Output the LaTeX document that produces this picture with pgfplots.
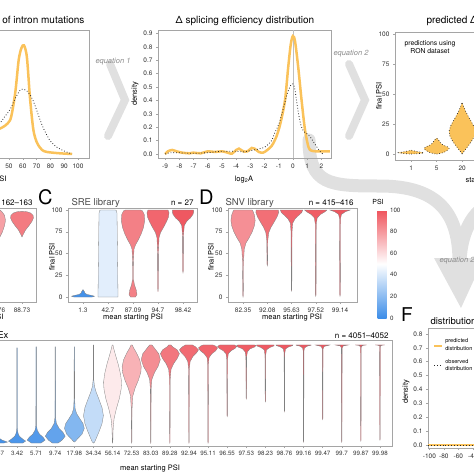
\documentclass[border=0pt]{standalone}
\usepackage{pgfplots}
\pgfplotsset{compat=1.18}
\usepackage{fontspec}
\setmainfont{TeX Gyre Heros}
\definecolor{PSIr}{RGB}{239,83,92}
\definecolor{PSIb}{RGB}{62,142,232}
\definecolor{orng}{RGB}{250,194,90}
\definecolor{band}{RGB}{224,224,224}
\definecolor{frame}{RGB}{165,165,165}
\pgfplotsset{colormap={psi}{rgb255(0cm)=(62,142,232); rgb255(1cm)=(255,255,255); rgb255(2cm)=(239,83,92)}}
\newcommand\fs[1]{\fontsize{#1}{#1}\selectfont}
\pgfplotsset{
 panel/.style={scale only axis, anchor=north west,
   axis line style={frame, line width=0.6pt},
   tick style={frame, line width=0.5pt}, tick align=outside, major tick length=2pt,
   tick pos=left, ticklabel style={font=\fs{6.5}, text=black!80},
   /pgf/number format/assume math mode=true, clip=true},
 vout/.style={draw=black!50, line width=0.3pt},
 pout/.style={draw=black!85, dotted, line width=0.7pt},
}
% violin: center, fill, outline style, list of y/halfwidth
\newcommand\vio[4]{%
 \gdef\vR{}\gdef\vL{}%
 \foreach \yy/\ww in {#4} {%
   \pgfmathsetmacro\xr{#1+\ww}\pgfmathsetmacro\xl{#1-\ww}%
   \xdef\vR{\vR (\xr,\yy)}\xdef\vL{(\xl,\yy) \vL}}%
 \edef\temp{\noexpand\addplot[fill=#2, #3] coordinates {\vR\space\vL} -- cycle;}%
 \temp
}
\begin{document}
\begin{tikzpicture}
\useasboundingbox (0pt,0pt) rectangle (474pt,-474pt);
\clip (0pt,0pt) rectangle (474pt,-474pt);
% ---------- decorative grey arrows ----------
\draw[band, line width=8pt, line join=miter, line cap=round] (110pt,-64pt) -- (125pt,-100pt) -- (108pt,-136pt);
\draw[band, line width=8pt, line join=miter, line cap=round] (349pt,-64pt) -- (365pt,-100pt) -- (349pt,-136pt);
\draw[band, line width=13pt, line cap=round] (309pt,-140pt) .. controls (309pt,-185pt) and (330pt,-186pt) .. (380pt,-186pt) .. controls (440pt,-186pt) and (459pt,-215pt) .. (459pt,-262pt);
\draw[band, line width=13pt] (500pt,-200pt) .. controls (475pt,-205pt) and (461pt,-230pt) .. (460pt,-262pt);
\fill[band] (434pt,-258pt) -- (484pt,-258pt) -- (461pt,-308pt) -- cycle;

% ---------- A (cropped) ----------
\begin{axis}[panel, at={(-71pt,-30pt)}, width=160pt, height=128pt,
  xmin=-8, xmax=108, ymin=-0.03, ymax=0.925, xtick={50,60,...,100}, ytick=\empty]
\addplot[orng, line width=2.5pt, smooth] coordinates {(0,0.005) (10,0.01) (20,0.03) (30,0.08) (35,0.12) (40,0.17) (43.5,0.19) (47,0.21) (50.7,0.25) (52.6,0.33) (54.8,0.48) (57,0.7) (59,0.79) (60.9,0.81) (63,0.72) (65.2,0.42) (67.4,0.2) (69,0.12) (71,0.07) (74,0.03) (77.5,0.015) (87,0.005) (95.7,0)};
\addplot[black!85, dotted, line width=0.8pt, smooth] coordinates {(0,0.005) (10,0.02) (20,0.06) (30,0.12) (40,0.2) (43.5,0.23) (47,0.28) (50.7,0.33) (54.8,0.42) (58.4,0.48) (61.3,0.48) (64,0.46) (67.4,0.4) (71,0.3) (74.6,0.2) (79.7,0.1) (84.8,0.05) (90.6,0.02) (95.7,0)};
\end{axis}

% ---------- B: delta splicing efficiency ----------
\begin{axis}[panel, at={(158pt,-30pt)}, width=173pt, height=128pt,
  xmin=-9.5, xmax=2.68, ymin=-0.03, ymax=0.925, xtick={-9,...,2}, ytick={0,0.1,...,0.9},
  yticklabel style={/pgf/number format/.cd, fixed, fixed zerofill, precision=1}]
\addplot[black!25, line width=0.8pt] coordinates {(0,-0.03) (0,0.925)};
\addplot[orng, line width=2.5pt, smooth] coordinates {(-9,0) (-8.8,0.02) (-8.5,0.03) (-8.2,0.02) (-7.8,0.01) (-7.3,0.005) (-7,0.01) (-6.5,0.005) (-6,0.02) (-5.5,0.015) (-5,0.02) (-4.6,0.01) (-4.3,0.002) (-4,0.03) (-3.8,0.04) (-3.5,0.02) (-3.2,0.02) (-2.9,0.045) (-2.7,0.04) (-2.4,0.015) (-2.1,0.01) (-1.8,0.03) (-1.5,0.06) (-1.2,0.12) (-0.9,0.22) (-0.56,0.4) (-0.33,0.65) (-0.15,0.82) (0,0.88) (0.15,0.84) (0.37,0.65) (0.61,0.4) (0.85,0.18) (1.1,0.05) (1.3,0.025) (1.6,0.02) (2,0.02) (2.6,0.02)};
\addplot[black!85, dotted, line width=0.8pt, smooth] coordinates {(-9,0) (-8.5,0.01) (-7,0.005) (-6,0.01) (-5,0.02) (-4,0.02) (-3.5,0.015) (-3,0.025) (-2.5,0.035) (-2,0.05) (-1.76,0.07) (-1.5,0.1) (-1.27,0.16) (-1,0.22) (-0.7,0.33) (-0.4,0.45) (-0.1,0.52) (0.1,0.5) (0.35,0.33) (0.55,0.22) (0.75,0.17) (1,0.15) (1.2,0.13) (1.45,0.09) (1.7,0.05) (1.9,0.02) (2.1,0)};
\end{axis}

% ---------- predicted (top right) ----------
\begin{axis}[panel, at={(395pt,-32pt)}, width=160pt, height=128pt,
  xmin=-0.63, xmax=5.64, ymin=-5, ymax=101.7, xtick={0,1,2}, xticklabels={1,5,20}, ytick={0,25,50,75,100}]
\vio{0}{orng}{pout}{0/0, 0.3/0.25, 0.7/0.45, 1.1/0.49, 1.5/0.38, 2/0.25, 2.6/0.1, 3.2/0}
\vio{1}{orng}{pout}{0/0, 0.5/0.15, 1.5/0.3, 3/0.42, 4.5/0.49, 6/0.42, 7.5/0.25, 9/0.16, 10.5/0.12, 12/0.06, 13.3/0}
\vio{2}{orng}{pout}{0/0, 3/0.1, 7/0.25, 11/0.38, 15/0.48, 19/0.51, 23/0.46, 27/0.36, 31/0.25, 35/0.15, 39/0.07, 43/0}
\end{axis}

% ---------- middle left (cropped) ----------
\begin{axis}[panel, at={(-90pt,-208pt)}, width=126pt, height=94pt,
  xmin=-3.48, xmax=1.56, ymin=-5.7, ymax=102.3, xtick={0,1}, xticklabels={78.76,88.73}, ytick=\empty]
\vio{0}{PSIr!55!white}{vout}{62/0, 68/0.1, 75/0.22, 82/0.3, 88/0.34, 94/0.3, 98/0.2, 100/0.12, 100/0}
\vio{1}{PSIr!77!white}{vout}{69/0, 72/0.05, 77/0.14, 82/0.28, 87/0.4, 91/0.46, 94/0.44, 96.5/0.35, 98/0.2, 98.5/0}
\end{axis}

% ---------- C: SRE library ----------
\begin{axis}[panel, at={(68pt,-208pt)}, width=129pt, height=94pt,
  xmin=-0.6, xmax=4.56, ymin=-5.7, ymax=102.3, xtick={0,...,4}, xticklabels={1.3,42.7,87.09,94.7,98.42}, ytick={0,25,50,75,100}]
\vio{0}{PSIb!97!white}{vout}{0/0, 0/0.36, 1/0.46, 2/0.32, 3/0.16, 4.5/0.08, 6.5/0.05, 8.5/0}
\vio{1}{PSIb!15!white}{vout}{0/0, 0/0.4, 50/0.38, 96/0.36, 99/0.34, 100/0.3, 100/0}
\vio{2}{PSIr!74!white}{vout}{0/0, 0/0.1, 3/0.16, 8/0.13, 14/0.06, 20/0.02, 40/0.015, 55/0.04, 60/0.1, 65/0.2, 72/0.32, 80/0.42, 88/0.47, 95/0.45, 99/0.38, 100/0.3, 100/0}
\vio{3}{PSIr!89!white}{vout}{6/0, 10/0.012, 50/0.016, 68/0.04, 74/0.1, 80/0.22, 86/0.33, 92/0.42, 97/0.44, 100/0.4, 100/0}
\vio{4}{PSIr!97!white}{vout}{28/0, 30/0.012, 70/0.016, 82/0.05, 87/0.15, 91/0.3, 95/0.4, 98/0.43, 100/0.42, 100/0}
\end{axis}

% ---------- D: SNV library ----------
\begin{axis}[panel, at={(228pt,-208pt)}, width=129pt, height=94pt,
  xmin=-0.62, xmax=4.7, ymin=-5.7, ymax=102.3, xtick={0,...,4}, xticklabels={82.35,92.08,95.63,97.52,99.14}, ytick={0,25,50,75,100}]
\vio{0}{PSIr!65!white}{vout}{0/0, 2/0.012, 40/0.02, 55/0.05, 62/0.12, 68/0.25, 75/0.38, 82/0.47, 88/0.5, 94/0.47, 98/0.42, 100/0.38, 100/0}
\vio{1}{PSIr!84!white}{vout}{36/0, 38/0.012, 65/0.02, 74/0.06, 80/0.15, 86/0.28, 92/0.4, 97/0.47, 100/0.46, 100/0}
\vio{2}{PSIr!91!white}{vout}{7/0, 9/0.012, 75/0.02, 85/0.05, 90/0.15, 94/0.3, 97/0.42, 100/0.46, 100/0}
\vio{3}{PSIr!95!white}{vout}{1/0, 3/0.012, 84/0.02, 91/0.06, 95/0.2, 98/0.38, 100/0.46, 100/0}
\vio{4}{PSIr!98!white}{vout}{1/0, 3/0.012, 90/0.02, 95/0.06, 98/0.22, 100/0.42, 100/0}
\end{axis}

% ---------- colorbar ----------
\begin{axis}[at={(365pt,-210pt)}, anchor=north east, scale only axis, width=2pt, height=108pt, hide axis,
  xmin=0, xmax=1, ymin=0, ymax=1,
  colormap name=psi, point meta min=0, point meta max=100, colorbar,
  colorbar style={at={(parent axis.north east)}, anchor=north west, xshift=4pt, scale only axis,
    width=9pt, height=108pt, ytick={0,20,...,100}, axis line style={draw=none},
    major tick length=0pt, yticklabel style={font=\fs{6.2}, text=black!80},
    /pgf/number format/assume math mode=true}]
\addplot[draw=none] coordinates {(0.5,0.5)};
\end{axis}

% ---------- E: GTEx ----------
\begin{axis}[panel, at={(-92pt,-340pt)}, width=484pt, height=106pt,
  xmin=-4.71, xmax=20.63, ymin=-3, ymax=105, xtick={0,...,20}, ytick=\empty,
  xticklabel style={font=\fs{6.2}},
  xticklabels={1.57,3.42,5.71,9.74,17.98,34.34,56.14,72.53,83.03,89.28,92.94,95.11,96.55,97.53,98.23,98.76,99.16,99.47,99.7,99.87,99.98}]
\vio{0}{PSIb!97!white}{vout}{0/0, 0/0.3, 1/0.5, 3/0.22, 5/0.06, 10/0.012, 98/0.01, 98/0}
\vio{1}{PSIb!93!white}{vout}{0/0, 0/0.3, 2/0.45, 4/0.3, 7/0.12, 10/0.05, 15/0.015, 97/0.01, 97/0}
\vio{2}{PSIb!89!white}{vout}{0/0, 0/0.25, 3/0.47, 6/0.36, 9/0.18, 13/0.06, 18/0.015, 98/0.01, 98/0}
\vio{3}{PSIb!81!white}{vout}{0/0, 0/0.15, 3/0.36, 7/0.52, 11/0.4, 15/0.2, 20/0.06, 26/0.015, 98/0.01, 98/0}
\vio{4}{PSIb!64!white}{vout}{1/0, 2/0.06, 5/0.2, 9/0.4, 15/0.52, 20/0.45, 25/0.28, 30/0.12, 35/0.04, 45/0.015, 98/0.01, 98/0}
\vio{5}{PSIb!31!white}{vout}{0/0, 1/0.06, 5/0.15, 12/0.3, 20/0.45, 28/0.52, 36/0.45, 44/0.3, 52/0.14, 58/0.05, 65/0.015, 100/0.01, 100/0}
\vio{6}{PSIr!12!white}{vout}{0/0, 1/0.012, 15/0.03, 25/0.08, 35/0.2, 45/0.35, 55/0.45, 62/0.47, 70/0.42, 80/0.3, 90/0.15, 97/0.05, 100/0.02, 100/0}
\vio{7}{PSIr!45!white}{vout}{0/0, 1/0.01, 35/0.02, 48/0.06, 56/0.18, 64/0.35, 72/0.48, 78/0.5, 85/0.42, 92/0.25, 97/0.1, 100/0.03, 100/0}
\vio{8}{PSIr!66!white}{vout}{0/0, 1/0.01, 55/0.02, 65/0.06, 72/0.2, 78/0.38, 85/0.5, 91/0.42, 96/0.22, 100/0.06, 100/0}
\vio{9}{PSIr!79!white}{vout}{0/0, 1/0.01, 65/0.02, 75/0.06, 81/0.2, 86/0.38, 91/0.5, 95/0.38, 98/0.15, 100/0.06, 100/0}
\vio{10}{PSIr!86!white}{vout}{0/0, 1/0.01, 75/0.02, 83/0.06, 88/0.2, 92/0.4, 95/0.5, 98/0.35, 100/0.18, 100/0}
\vio{11}{PSIr!90!white}{vout}{0/0, 1/0.01, 80/0.02, 87/0.05, 91/0.2, 94/0.4, 97/0.5, 99/0.38, 100/0.25, 100/0}
\vio{12}{PSIr!93!white}{vout}{27/0, 28/0.01, 85/0.02, 91/0.06, 94/0.2, 96.5/0.42, 98.5/0.5, 100/0.38, 100/0}
\vio{13}{PSIr!95!white}{vout}{45/0, 46/0.01, 88/0.02, 93/0.06, 96/0.2, 98/0.45, 99.5/0.5, 100/0.42, 100/0}
\vio{14}{PSIr!96!white}{vout}{42/0, 43/0.01, 90/0.02, 95/0.06, 97.5/0.25, 99/0.45, 100/0.46, 100/0}
\vio{15}{PSIr!98!white}{vout}{32/0, 33/0.01, 92/0.02, 96/0.06, 98/0.22, 99.3/0.42, 100/0.45, 100/0}
\vio{16}{PSIr!98!white}{vout}{1/0, 2/0.01, 94/0.02, 97/0.05, 98.8/0.2, 99.7/0.4, 100/0.4, 100/0}
\vio{17}{PSIr!99!white}{vout}{24/0, 25/0.01, 96/0.02, 98.5/0.08, 99.5/0.3, 100/0.38, 100/0}
\vio{18}{PSIr!99!white}{vout}{1/0, 2/0.01, 97/0.02, 99/0.08, 99.8/0.3, 100/0.35, 100/0}
\vio{19}{PSIr}{vout}{2/0, 3/0.01, 98/0.02, 99.5/0.1, 100/0.3, 100/0}
\vio{20}{PSIr}{vout}{3/0, 4/0.01, 99/0.02, 99.7/0.1, 100/0.25, 100/0}
\end{axis}

% ---------- F: distributions ----------
\begin{axis}[panel, at={(428pt,-328pt)}, width=146pt, height=120pt,
  xmin=-102, xmax=100, ymin=-0.0216, ymax=0.843, xtick={-100,-80,...,100}, ytick={0,0.1,...,0.8},
  yticklabel style={/pgf/number format/.cd, fixed, fixed zerofill, precision=1},
  legend style={at={(0.035,0.93)}, anchor=north west, draw=none, fill=none, font=\fs{5.6}, row sep=3pt, inner sep=0pt},
  legend cell align=left,
  legend image code/.code={\draw[#1] (0pt,0pt) -- (8pt,0pt);}]
\addplot[orng, line width=2pt] coordinates {(-102,0) (-60,0) (-20,0) (20,0) (60,0) (100,0)};
\addlegendentry{\shortstack[l]{predicted\\distribution}}
\addplot[black!85, dotted, line width=0.9pt] coordinates {(-102,0) (-60,0) (-20,0) (20,0) (60,0) (100,0)};
\addlegendentry{\shortstack[l]{observed\\distribution}}
\end{axis}

% ---------- texts ----------
\node[anchor=base east, font=\fs{10}] at (88pt,-23pt) {distribution of intron mutations};
\node[anchor=base, font=\fs{10}] at (245pt,-23pt) {Δ splicing efficiency distribution};
\node[anchor=base west, font=\fs{10}] at (423pt,-23pt) {predicted Δ PSI distributions};
\node[font=\fs{7.5}\itshape, text=black!45] at (113pt,-62pt) {equation 1};
\node[font=\fs{7.5}\itshape, text=black!45] at (351pt,-54pt) {equation 2};
\node[anchor=west, font=\fs{7.5}\itshape, text=black!45] at (436pt,-261pt) {equation 2};
\node[align=center, font=\fontsize{6.8}{8}\selectfont] at (430pt,-47pt) {predictions using\\RON dataset};
\node[anchor=base east, font=\fs{6.5}] at (4pt,-61pt) {observation};
\node[anchor=base east, font=\fs{7.5}] at (10pt,-181pt) {starting PSI};
\node[anchor=base, font=\fs{7.5}] at (244pt,-181pt) {log\textsubscript{2}A};
\node[anchor=base west, font=\fs{7.5}] at (462pt,-182pt) {starting PSI};
\node[rotate=90, font=\fs{7.5}] at (135pt,-94pt) {density};
\node[rotate=90, font=\fs{7.5}] at (379pt,-96pt) {final PSI};
% middle row
\node[anchor=base east, font=\fs{8}] at (36pt,-205pt) {n = 162–163};
\node[anchor=base east, font=\fs{7.5}] at (7pt,-319pt) {mean starting PSI};
\node[anchor=base west, font=\fs{20}, inner sep=0pt] at (38pt,-204pt) {C};
\node[anchor=base west, font=\fs{9.5}, text=black!70] at (68pt,-205pt) {SRE library};
\node[anchor=base east, font=\fs{8}] at (197pt,-205pt) {n = 27};
\node[anchor=base west, font=\fs{20}, inner sep=0pt] at (199pt,-204pt) {D};
\node[anchor=base west, font=\fs{9.5}, text=black!70] at (222pt,-205pt) {SNV library};
\node[anchor=base east, font=\fs{8}] at (357pt,-205pt) {n = 415–416};
\node[rotate=90, font=\fs{7.5}] at (52pt,-257pt) {final PSI};
\node[rotate=90, font=\fs{7.5}] at (211pt,-257pt) {final PSI};
\node[anchor=base, font=\fs{7.5}] at (133pt,-319pt) {mean starting PSI};
\node[anchor=base, font=\fs{7.5}] at (292pt,-319pt) {mean starting PSI};
\node[anchor=base, font=\fs{7}] at (378pt,-204pt) {PSI};
% bottom row
\node[anchor=base east, font=\fs{9.5}] at (12pt,-338pt) {GTEx};
\node[anchor=base east, font=\fs{8}] at (392pt,-338pt) {n = 4051–4052};
\node[anchor=base, font=\fs{7.5}] at (150pt,-470pt) {mean starting PSI};
\node[anchor=base west, font=\fs{19}, inner sep=0pt] at (401pt,-321pt) {F};
\node[anchor=base west, font=\fs{9.5}] at (427pt,-324pt) {distributions of ΔPSI};
\node[rotate=90, font=\fs{7.5}] at (406pt,-392pt) {density};
\end{tikzpicture}
\end{document}
